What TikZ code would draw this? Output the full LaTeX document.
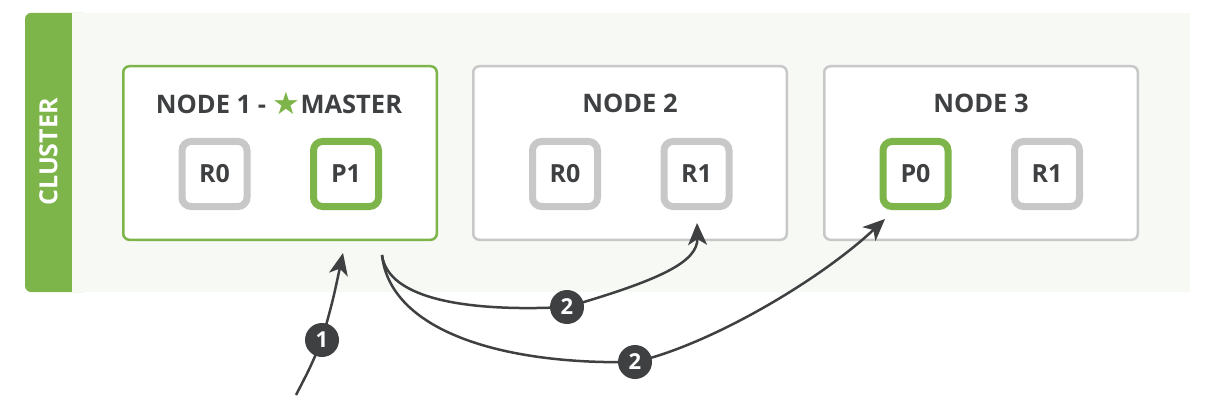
\documentclass[tikz,border=0pt]{standalone}
\usepackage{fontspec}
\setmainfont{Open Sans}
\newfontfamily\symfont{DejaVu Sans}
\usetikzlibrary{arrows.meta}
\definecolor{esgreen}{HTML}{7DB54A}
\definecolor{esgray}{HTML}{C8C8C8}
\definecolor{esdark}{HTML}{3E4042}
\definecolor{esbg}{HTML}{F7F9F4}
\tikzset{
  nodebox/.style={draw=esgray, line width=2.5pt, fill=white, rounded corners=6pt,
    minimum width=313.5pt, minimum height=173.5pt, inner sep=0pt},
  title/.style={text=esdark, font=\bfseries\fontsize{25.5}{30}\selectfont, inner sep=0pt},
  shard/.style={draw=esgray, line width=7pt, fill=white, rounded corners=9pt,
    minimum size=65pt, inner sep=0pt, text=esdark, font=\bfseries\fontsize{25}{30}\selectfont},
  primary/.style={shard, draw=esgreen},
  badge/.style={circle, fill=esdark, minimum size=34pt, inner sep=0pt, text=white,
    font=\bfseries\fontsize{22}{26}\selectfont},
  flow/.style={draw=esdark, line width=2.5pt},
  tip/.style={-{Stealth[length=22pt, width=19pt, inset=6pt]}},
}
\begin{document}
\begin{tikzpicture}[x=1pt,y=-1pt]
\useasboundingbox (0,0) rectangle (1230,406);
% cluster background
\fill[esgreen, rounded corners=6pt] (25,13) rectangle (90,292);
\fill[esbg] (72,13) rectangle (1190,292);
\node[rotate=90, text=white, font=\bfseries\fontsize{25}{30}\selectfont, inner sep=0pt] (cl) at (48.5,152) {CLUSTER};
% nodes
\node[nodebox, draw=esgreen] (n1) at (280,153) {};
\node[nodebox] (n2) at (630,153) {};
\node[nodebox] (n3) at (981,153) {};
\node[title] (t1) at (279,103) {NODE 1 - {\color{esgreen}\symfont\fontsize{31}{30}\selectfont\raisebox{-1pt}{★}}MASTER};
\node[title] (t2) at (630,103) {NODE 2};
\node[title] (t3) at (981,103) {NODE 3};
% shards
\node[shard] (a0) at (214.5,174) {R0};
\node[primary] (a1) at (346,174) {P1};
\node[shard] (b0) at (565,174) {R0};
\node[shard] (b1) at (696.5,174) {R1};
\node[primary] (c0) at (915.5,174) {P0};
\node[shard] (c1) at (1047,174) {R1};
% coordinates for free ends
\coordinate (client) at (296,395);
\coordinate (tip1) at (343,253);
\coordinate (src) at (382,255);
\coordinate (tipA) at (697,223);
\coordinate (tipB) at (885,219);
% badges positions
\coordinate (p1) at (322,340);
\coordinate (p2a) at (567,307);
\coordinate (p2b) at (635,362);
% arrows
\draw[flow, tip] (client) .. controls (310,368) .. (p1) .. controls (333,300) .. (tip1);
\draw[flow, tip] (src) .. controls (388,300) and (470,312) .. (p2a)
   .. controls (660,280) and (698,262) .. (tipA);
\draw[flow, tip] (src) .. controls (390,330) and (500,365) .. (p2b)
   .. controls (710,345) and (820,280) .. (tipB);
% badges
\node[badge] (b1badge) at (p1) {1};
\node[badge] (b2abadge) at (p2a) {2};
\node[badge] (b2bbadge) at (p2b) {2};
\end{tikzpicture}
\end{document}
